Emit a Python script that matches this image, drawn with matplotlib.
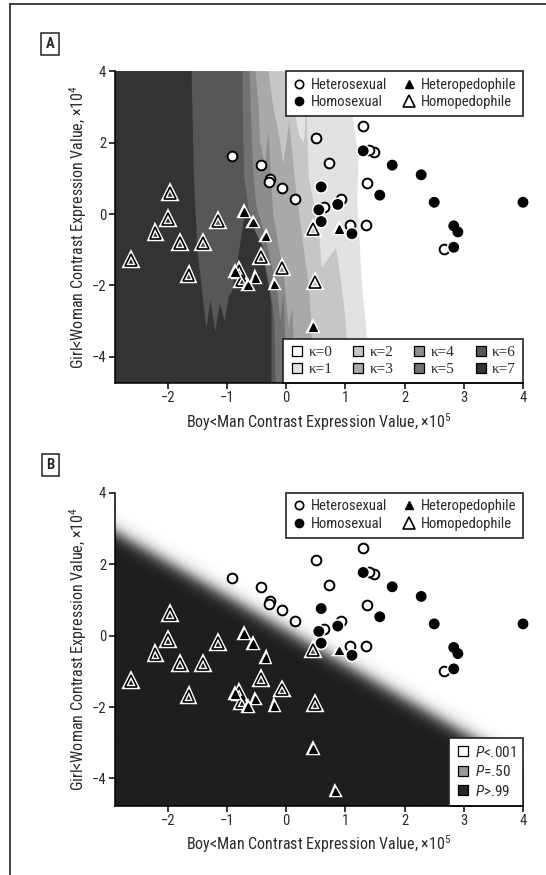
import numpy as np
import matplotlib
matplotlib.use("Agg")
import matplotlib.pyplot as plt
import matplotlib.patheffects as pe
from matplotlib import font_manager as fm
from matplotlib.lines import Line2D
from matplotlib.colors import LinearSegmentedColormap


def pick_font(names):
    for n in names:
        try:
            fm.findfont(fm.FontProperties(family=n), fallback_to_default=False)
            return n
        except Exception:
            pass
    return 'DejaVu Sans'


SANS = pick_font(['Liberation Sans Narrow', 'Roboto Condensed', 'Liberation Sans'])
SERIF = pick_font(['Liberation Serif', 'DejaVu Serif'])
plt.rcParams['font.family'] = [SANS, 'DejaVu Sans']
plt.rcParams['mathtext.fontset'] = 'custom'
plt.rcParams['mathtext.rm'] = SANS
plt.rcParams['mathtext.it'] = SANS + ':italic'
TXT = '#2a2a2a'

# ---- data (x in 1e5, y in 1e4) ----
HET_X = [-0.92, -0.42, -0.28, -0.29, -0.07, 0.15, 0.50, 0.73, 0.63, 0.93, 1.07, 1.30, 1.48, 1.40, 1.37, 1.35, 2.67]
HET_Y = [1.63, 1.37, 0.97, 0.90, 0.73, 0.42, 2.13, 1.43, 0.20, 0.42, -0.30, 2.46, 1.74, 1.78, 0.87, -0.30, -0.99]
HOM_X = [0.59, 0.55, 0.59, 0.87, 1.11, 1.30, 1.58, 1.79, 2.28, 2.50, 2.83, 2.90, 2.83, 4.00]
HOM_Y = [0.76, 0.12, -0.21, 0.27, -0.55, 1.77, 0.53, 1.37, 1.10, 0.33, -0.33, -0.50, -0.93, 0.33]
HETPED_X = [-0.71, -0.56, -0.35, -0.87, -0.52, -0.65, -0.20, 0.45, 0.83, 0.89]
HETPED_Y = [0.05, -0.24, -0.63, -1.63, -1.79, -2.00, -1.97, -3.17, -4.36, -0.41]
HOMPED_X = [-2.62, -1.96, -2.00, -2.21, -1.79, -1.41, -1.65, -1.15, -0.42, -0.07, 0.45, 0.49, -0.79, -0.75]
HOMPED_Y = [-1.28, 0.60, -0.13, -0.52, -0.80, -0.80, -1.70, -0.20, -1.21, -1.51, -0.41, -1.91, -1.60, -1.86]

# kappa region boundaries (right edge of region kappa >= k)
K1_X = [1.02, 1.08, 1.15, 1.22, 1.20, 1.24, 1.28, 1.34, 1.37, 1.37]
K1_Y = [4.0, 3.2, 2.4, 1.6, 0.4, -0.8, -2.0, -3.0, -3.8, -4.8]
K2_X = [0.05, 0.12, 0.22, 0.30, 0.34, 0.38, 0.48, 0.55, 0.60, 0.84, 0.92, 0.98, 1.03, 1.03]
K2_Y = [4.0, 3.0, 2.2, 2.0, 3.1, 1.0, 0.2, -0.5, -1.5, -0.95, -1.8, -2.6, -3.6, -4.8]
K3_X = [-0.30, -0.22, -0.12, -0.05, 0.05, 0.15, 0.22, 0.30, 0.38, 0.42, 0.45]
K3_Y = [4.0, 3.0, 2.2, 1.4, 2.6, 0.9, 0.0, -1.0, -2.0, -3.0, -4.8]
K4_X = [-0.52, -0.47, -0.44, -0.36, -0.30, -0.25, -0.22, -0.14, -0.05, 0.00, 0.04, 0.10, 0.13, 0.12]
K4_Y = [4.0, 3.0, 2.0, 1.4, 2.3, 0.8, 0.0, -0.8, -1.6, -2.4, -3.2, -2.6, -3.6, -4.8]
K5_X = [-0.62, -0.60, -0.58, -0.55, -0.50, -0.36, -0.25, -0.15, -0.10, -0.05, -0.02, -0.04]
K5_Y = [4.0, 3.0, 2.0, 1.0, 0.2, -0.6, -1.4, -2.2, -3.0, -2.2, -3.4, -4.8]
K6_X = [-0.74, -0.73, -0.71, -0.64, -0.50, -0.36, -0.26, -0.20, -0.18]
K6_Y = [4.0, 2.5, 1.0, 0.2, -0.6, -1.4, -2.2, -3.0, -4.8]
K7_X = [-1.60, -1.56, -1.50, -1.42, -1.35, -1.28, -1.20, -1.12, -1.04, -0.97, -0.92,
        -0.82, -0.68, -0.52, -0.40, -0.34, -0.28, -0.25, -0.25]
K7_Y = [4.0, 1.0, -1.0, -2.2, -3.2, -2.4, -3.3, -2.5, -3.0, -2.3, -2.2,
        -1.28, 0.22, -0.5, -0.9, -1.65, -2.2, -2.6, -4.8]
K_BOUNDS = [(K1_X, K1_Y), (K2_X, K2_Y), (K3_X, K3_Y), (K4_X, K4_Y),
            (K5_X, K5_Y), (K6_X, K6_Y), (K7_X, K7_Y)]
K_COLORS = ['#ffffff', '#e2e2e2', '#c6c6c6', '#a9a9a9', '#8d8d8d', '#717171', '#575757', '#333333']
K_LABELS = ['\u03ba=%d' % k for k in range(8)]

# panel B: logistic boundary y = ICPT + SLOPE * x
B_SLOPE = -0.955
B_ICPT = 0.15
B_SHARP = 10.0
P_LABELS = [r'$\mathit{P}$<.001', r'$\mathit{P}$=.50', r'$\mathit{P}$>.99']
P_COLORS = ['#ffffff', '#9a9a9a', '#262626']

XMIN, XMAX = -2.9, 4.0

W, H = 546, 875
fig = plt.figure(figsize=(W / 100, H / 100), dpi=100)
axA = fig.add_axes([114.6 / W, 1 - 383 / H, (523 - 114.6) / W, (383 - 71.2) / H])
axB = fig.add_axes([114.6 / W, 1 - 805.6 / H, (523 - 114.6) / W, (805.6 - 492.9) / H])

# frame around the figure (right side cut off)
fig.add_artist(Line2D([10 / W, 1.0], [1 - 4 / H, 1 - 4 / H], transform=fig.transFigure, color='#333', lw=1.3))
fig.add_artist(Line2D([10 / W, 10 / W], [1 - 4 / H, 0.0], transform=fig.transFigure, color='#333', lw=1.3))

for lab, yy in [('A', 44), ('B', 465)]:
    fig.text(50 / W, 1 - yy / H, lab, ha='center', va='center', fontsize=10.5, color=TXT,
             fontweight='bold',
             bbox=dict(boxstyle='square,pad=0.3', fc='white', ec='#222', lw=1.1))

# panel A background
for k, (bx, by) in enumerate(K_BOUNDS, start=1):
    px = [XMIN] + bx + [XMIN]
    py = [by[0]] + by + [by[-1]]
    axA.fill(px, py, color=K_COLORS[k], lw=0, zorder=1)

# panel B background
gx = np.linspace(XMIN, XMAX, 600)
gy = np.linspace(-4.8, 4.0, 600)
GX, GY = np.meshgrid(gx, gy)
dist = (B_ICPT + B_SLOPE * GX - GY) / np.sqrt(1 + B_SLOPE ** 2)
prob = 1 / (1 + np.exp(-B_SHARP * dist))
cmap = LinearSegmentedColormap.from_list('pb', ['#ffffff', '#1e1e1e'])
axB.imshow(prob, extent=[XMIN, XMAX, -4.8, 4.0], origin='lower', cmap=cmap,
           aspect='auto', interpolation='bilinear', zorder=1)

halo = [pe.Stroke(linewidth=3.2, foreground='white'), pe.Normal()]


def draw_points(ax):
    ax.plot(HET_X, HET_Y, ls='none', marker='o', ms=7, mfc='white', mec='black', mew=1.4,
            zorder=3, clip_on=False)
    ax.plot(HOM_X, HOM_Y, ls='none', marker='o', ms=6.8, mfc='black', mec='black', mew=1.0,
            zorder=3, clip_on=False, path_effects=halo)
    ax.plot(HOMPED_X, HOMPED_Y, ls='none', marker='^', ms=8.5, mfc='none', mec='black', mew=1.2,
            zorder=4, clip_on=False, path_effects=halo)
    ax.plot(HETPED_X, HETPED_Y, ls='none', marker='^', ms=5.5, mfc='black', mec='black', mew=0.8,
            zorder=4, clip_on=False, path_effects=halo)


def style_axes(ax, ymin):
    ax.set_xlim(XMIN, XMAX)
    ax.set_ylim(ymin, 4)
    ax.set_xticks([-2, -1, 0, 1, 2, 3, 4])
    ax.set_yticks([-4, -2, 0, 2, 4])
    for s in ['top', 'right']:
        ax.spines[s].set_visible(False)
    for s in ['left', 'bottom']:
        ax.spines[s].set_linewidth(1.1)
        ax.spines[s].set_zorder(6)
    ax.tick_params(direction='out', length=4, width=1.1, labelsize=10.5, colors='black',
                   labelcolor=TXT, pad=2)
    ax.set_xlabel('Boy<Man Contrast Expression Value, \u00d710$^5$', fontsize=11.5, color=TXT, labelpad=4)
    ax.set_ylabel('Girl<Woman Contrast Expression Value, \u00d710$^4$', fontsize=11.5, color=TXT, labelpad=2)


def group_legend(ax):
    hs = [Line2D([], [], ls='none', marker='o', ms=6, mfc='white', mec='black', mew=1.2),
          Line2D([], [], ls='none', marker='o', ms=6, mfc='black', mec='black'),
          Line2D([], [], ls='none', marker='^', ms=5.5, mfc='black', mec='black'),
          Line2D([], [], ls='none', marker='^', ms=8, mfc='none', mec='black', mew=1.2)]
    labs = ['Heterosexual', 'Homosexual', 'Heteropedophile', 'Homopedophile']
    leg = ax.legend(hs, labs, loc='upper right', ncol=2, frameon=True, fancybox=False,
                    edgecolor='#222', framealpha=1, borderaxespad=0, fontsize=10.5,
                    handlelength=1.0, handletextpad=0.3, columnspacing=1.0,
                    labelspacing=0.25, borderpad=0.45)
    leg.get_frame().set_linewidth(1.2)
    for t in leg.get_texts():
        t.set_color(TXT)
    return leg


draw_points(axA)
style_axes(axA, -4.73)
legA = group_legend(axA)
axA.add_artist(legA)
kh = [Line2D([], [], ls='none', marker='s', ms=7.5, mfc=c, mec='black', mew=0.9) for c in K_COLORS]
legK = axA.legend(kh, K_LABELS, loc='lower right', ncol=4, frameon=True, fancybox=False,
                  edgecolor='#222', framealpha=1, borderaxespad=0, fontsize=11,
                  handlelength=0.9, handletextpad=0.3, columnspacing=1.25,
                  labelspacing=0.2, borderpad=0.45)
legK.get_frame().set_linewidth(1.2)
for t in legK.get_texts():
    t.set_family([SERIF, 'DejaVu Serif'])
    t.set_color(TXT)

draw_points(axB)
style_axes(axB, -4.76)
legB = group_legend(axB)
axB.add_artist(legB)
ph = [Line2D([], [], ls='none', marker='s', ms=7.5, mfc=c, mec='black', mew=0.9) for c in P_COLORS]
legP = axB.legend(ph, P_LABELS, loc='lower right', ncol=1, frameon=True, fancybox=False,
                  edgecolor='#222', framealpha=1, borderaxespad=0, fontsize=11,
                  handlelength=0.9, handletextpad=0.35, labelspacing=0.3, borderpad=0.45)
legP.get_frame().set_linewidth(1.2)
for t in legP.get_texts():
    t.set_color(TXT)

fig.savefig('out.png', dpi=100)
